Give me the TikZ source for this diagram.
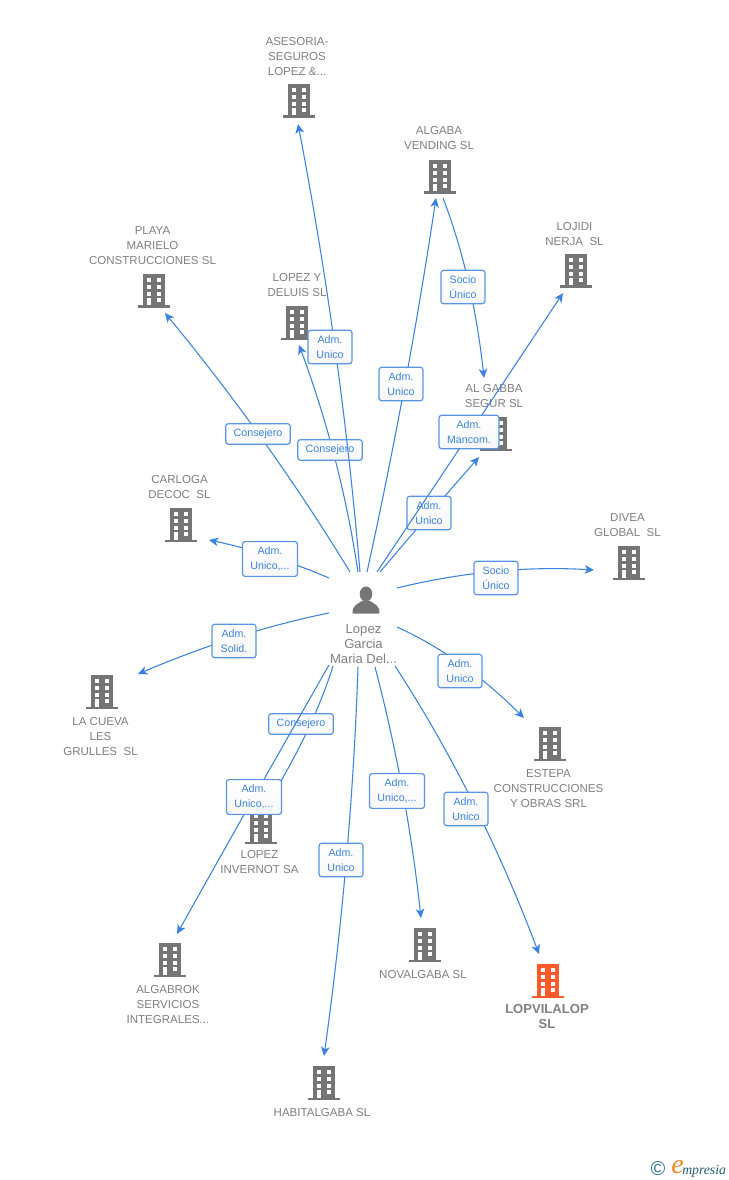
\documentclass[tikz,border=0pt]{standalone}
\usepackage{fontspec}
\setmainfont{Liberation Sans}
\newfontfamily\logofont{Liberation Serif}
\usetikzlibrary{arrows.meta,calc}
\definecolor{firmgray}{HTML}{808080}
\definecolor{icongray}{HTML}{757575}
\definecolor{iconred}{HTML}{FF5A2B}
\definecolor{linkblue}{HTML}{3B82E4}
\definecolor{logoteal}{HTML}{2F6F8F}
\definecolor{logoorange}{HTML}{F08A1D}
\newcommand{\cutmark}{...}
\tikzset{
	firm/.style={text=firmgray, align=center, inner sep=0pt, yshift=-0.75pt, font=\fontsize{8.65pt}{11.25pt}\selectfont},
	firmmain/.style={firm, yshift=0.75pt, font=\bfseries\fontsize{9.8pt}{11.25pt}\selectfont},
	personname/.style={firm, font=\fontsize{9.8pt}{11.25pt}\selectfont},
	link/.style={linkblue, line width=0.8pt, -{Stealth[length=7pt, width=6.5pt, inset=2pt]}},
	role/.style={draw=linkblue!85, line width=0.9pt, rounded corners=2pt, top color=white, bottom color=black!3,
		text=linkblue, align=center, inner xsep=6pt, inner ysep=4pt, minimum width=33pt,
		font=\fontsize{8pt}{11.25pt}\selectfont},
	office/.pic={
		\path[pic actions] (-11,-17) rectangle (11,15);
		\path[pic actions] (-16,14.5) rectangle (16,17);
		\foreach \wy in {-10.7,-3.9,2.8}{
			\fill[white] (-7.3,\wy-2.1) rectangle (-3,\wy+2.1);
			\fill[white] (2.7,\wy-2.1) rectangle (7,\wy+2.1);
		}
		\fill[white] (-7.3,6.7) rectangle (-3,14.5);
		\fill[white] (2.7,6.7) rectangle (7,11.3);
	}
}
\begin{document}
\begin{tikzpicture}[x=0.75pt, y=-0.75pt]
\useasboundingbox (0,0) rectangle (728,1180);

%buildings
	\foreach \xy in {(299,101),(440,177),(576,271),(154,291),(297,323),(496,434),(181,525),(629,563),
		(102,692),(550,744),(261,827),(170,960),(425,945),(324,1083)}{
		\pic[fill=icongray] at \xy {office};
	}
	\pic[fill=iconred] at (548,981) {office};

%firms
	\foreach \name/\xy/\txt in {
		{asesoria/(297,55.5)/ASESORIA-\\SEGUROS\\LOPEZ \&\cutmark},
		{algaba/(439,137.5)/ALGABA\\VENDING SL},
		{lojidi/(574.5,233.5)/LOJIDI\\NERJA\ \ SL},
		{playa/(152.5,245)/PLAYA\\MARIELO\\CONSTRUCCIONES SL},
		{lopezy/(297,284.5)/LOPEZ Y\\DELUIS SL},
		{gabba/(494,395.5)/AL GABBA\\SEGUR SL},
		{carloga/(179.5,486.5)/CARLOGA\\DECOC\ \ SL},
		{divea/(627.5,524.5)/DIVEA\\GLOBAL\ \ SL},
		{cueva/(100.5,736)/LA CUEVA\\LES\\GRULLES\ \ SL},
		{estepa/(548.5,788)/ESTEPA\\CONSTRUCCIONES\\Y OBRAS SRL},
		{invernot/(259.5,861)/LOPEZ\\INVERNOT SA},
		{algabrok/(168,1004)/ALGABROK\\SERVICIOS\\INTEGRALES\cutmark},
		{novalgaba/(423,974)/NOVALGABA SL},
		{habital/(322,1112)/HABITALGABA SL}}{
		\node[firm] (\name) at \xy {\txt};
	}
	\node[firmmain] (lopvilalop) at (547,1016) {LOPVILALOP\\SL};

%person
	\fill[icongray] (366,594) ellipse (6.3 and 7.5);
	\fill[icongray] (352.5,613.5) .. controls (352,605) and (358,604) .. (362,601) -- (370,601)
		.. controls (374,604) and (380,605) .. (379.5,613.5) -- cycle;
	\node[personname] (person) at (363.5,643) {Lopez\\Garcia\\Maria Del\cutmark};

%links, each with its box on top
	\foreach \name/\pa/\pc/\pb/\lab/\txt in {
		{playa/(350,572)/(269,439)/(165,313)/(258,434)/Consejero},
		{carloga/(329,578)/(270.5,553)/(209,540)/(270,559)/Adm.\\Unico,\cutmark},
		{lopezy/(358,572)/(341,458)/(299,345)/(330,450)/Consejero},
		{asesoria/(360,572)/(341,348)/(298,124)/(330,347)/Adm.\\Unico},
		{algaba/(367,572)/(408,385)/(436,198)/(401,384)/Adm.\\Unico},
		{gabba/(443,198)/(473,276)/(484,378)/(463,287)/Socio\\Único},
		{algabba/(380,572)/(429,514)/(479,457)/(429,513)/Adm.\\Unico},
		{lojidi/(377,572)/(468,436)/(563,293)/(469,432)/Adm.\\Mancom.},
		{divea/(397,588)/(495,564)/(594,570)/(496,578)/Socio\\Único},
		{estepa/(397,627)/(463,657)/(524,718)/(460,671)/Adm.\\Unico},
		{lopvilalop/(395,666)/(479,795)/(539,954)/(466,809)/Adm.\\Unico},
		{novalgaba/(375,667)/(407,789)/(421,918)/(397,791)/Adm.\\Unico,\cutmark},
		{habital/(358,667)/(351.5,859)/(324,1056)/(341,860)/Adm.\\Unico},
		{invernot/(333,666)/(312,733)/(262,812)/(301,724)/Consejero},
		{algabrok/(329,665)/(253,798)/(177,934)/(254,797)/Adm.\\Unico,\cutmark},
		{cueva/(329,613)/(239,631)/(138,674)/(234,641)/Adm.\\Solid.}}{
		\path \pa coordinate (start\name) \pc coordinate (bend\name) \pb coordinate (stop\name);
		\draw[link] (start\name) .. controls ($(start\name)!0.667!(bend\name)$) and ($(stop\name)!0.667!(bend\name)$) .. (stop\name);
		\node[role] (box\name) at \lab {\txt};
	}

%logo
	\node[text=logoteal, inner sep=0pt, font=\fontsize{15pt}{15pt}\selectfont] (copyr) at (658,1169) {©};
	\node[text=logoorange, inner sep=0pt, font=\logofont\itshape\fontsize{21pt}{21pt}\selectfont] (logoe) at (677.5,1167.5) {e};
	\node[text=logoteal!80!black, inner sep=0pt, anchor=west, font=\logofont\itshape\fontsize{10.3pt}{10pt}\selectfont] (logotxt) at (682,1171) {mpresia};
\end{tikzpicture}
\end{document}
